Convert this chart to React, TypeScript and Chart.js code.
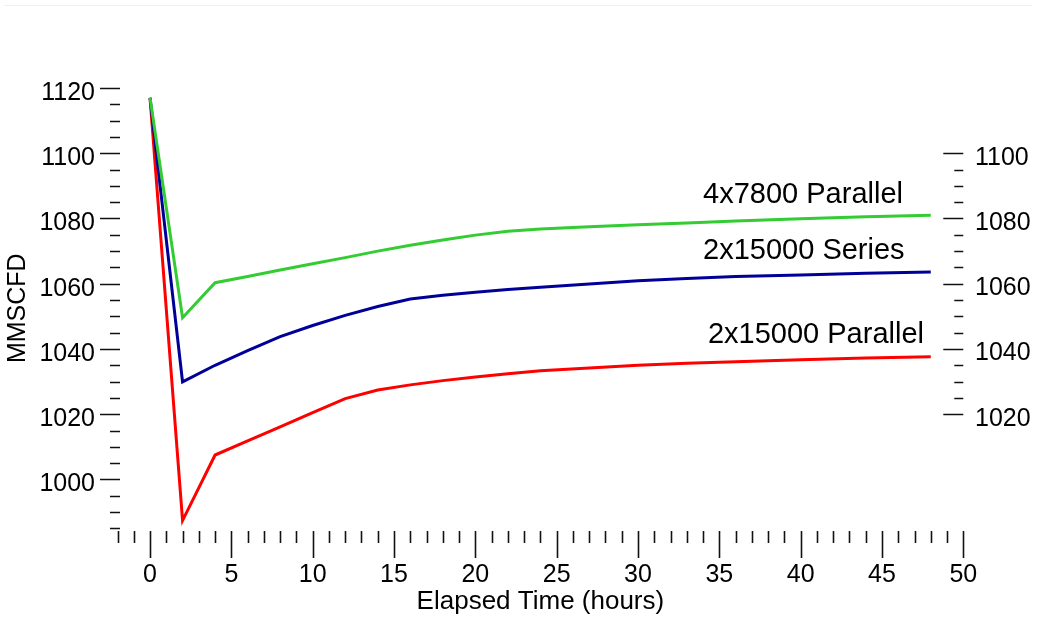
import React, { useEffect, useRef } from "react";
import { Chart, registerables } from "chart.js";

Chart.register(...registerables);

const hours = [0, 2, 4, 6, 8, 10, 12, 14, 16, 18, 20, 22, 24, 27, 30, 33, 36, 40, 44, 48];

const parallel4x7800 = [1117, 1049.6, 1060.3, 1062.2, 1064.2, 1066.1, 1068.0, 1070.0, 1071.8, 1073.4, 1074.9, 1076.1, 1076.8, 1077.5, 1078.1, 1078.6, 1079.2, 1079.9, 1080.5, 1081.0];
const series2x15000 = [1117, 1029.9, 1035.0, 1039.5, 1043.8, 1047.2, 1050.3, 1053.0, 1055.3, 1056.5, 1057.4, 1058.2, 1058.9, 1059.9, 1060.9, 1061.6, 1062.2, 1062.7, 1063.2, 1063.6];
const parallel2x15000 = [1117, 987.4, 1007.5, 1011.8, 1016.1, 1020.5, 1024.8, 1027.4, 1029.0, 1030.3, 1031.4, 1032.4, 1033.3, 1034.2, 1035.0, 1035.6, 1036.1, 1036.7, 1037.2, 1037.6];

const seriesNames = ["4x7800 Parallel", "2x15000 Series", "2x15000 Parallel"];
const seriesColors = ["#33cc33", "#000099", "#ff0000"];

const xTickLabels = [0, 5, 10, 15, 20, 25, 30, 35, 40, 45, 50];
const leftTickLabels = [1000, 1020, 1040, 1060, 1080, 1100, 1120];
const rightTickLabels = [1020, 1040, 1060, 1080, 1100];

// label anchors (data coordinates)
const labelAnchors = [
  { x: 34.0, y: 1084.7 },
  { x: 34.0, y: 1067.6 },
  { x: 34.3, y: 1041.9 },
];

const FONT = "'Liberation Sans', Arial, sans-serif";

const decorPlugin = {
  id: "decor",
  afterDraw(chart: any) {
    const { ctx, chartArea, scales } = chart;
    const xs = scales.x;
    const yl = scales.y;
    const yr = scales.y2;
    ctx.save();
    // faint frame line at top
    ctx.strokeStyle = "rgba(225,225,200,0.45)";
    ctx.lineWidth = 1;
    ctx.beginPath();
    ctx.moveTo(4, 5.5);
    ctx.lineTo(1032, 5.5);
    ctx.stroke();

    ctx.strokeStyle = "#111";
    ctx.lineWidth = 1.6;
    ctx.beginPath();
    // left axis ticks
    const leftEnd = chartArea.left + 2.5;
    for (let v = 985; v <= 1120; v += 5) {
      const y = Math.round(yl.getPixelForValue(v)) + 0.5;
      const major = v % 20 === 0;
      ctx.moveTo(leftEnd - (major ? 20 : 10), y);
      ctx.lineTo(leftEnd, y);
    }
    // right axis ticks
    const rightEnd = chartArea.right;
    for (let v = 1020; v <= 1100; v += 5) {
      const y = Math.round(yr.getPixelForValue(v)) + 0.5;
      const major = v % 20 === 0;
      ctx.moveTo(rightEnd - (major ? 20 : 9), y);
      ctx.lineTo(rightEnd, y);
    }
    // x axis ticks
    const top = chartArea.bottom + 2.5;
    for (let v = -2; v <= 50; v += 1) {
      const x = Math.round(xs.getPixelForValue(v)) + 0.5;
      const major = v % 5 === 0;
      ctx.moveTo(x, top);
      ctx.lineTo(x, top + (major ? 27 : 12));
    }
    ctx.stroke();

    // line labels
    ctx.fillStyle = "#000";
    ctx.font = `29px ${FONT}`;
    ctx.textAlign = "left";
    ctx.textBaseline = "alphabetic";
    seriesNames.forEach((name, i) => {
      const a = labelAnchors[i];
      ctx.fillText(name, xs.getPixelForValue(a.x), yl.getPixelForValue(a.y));
    });
    ctx.restore();
  },
};

const plain = (v: any) => String(v);

export default function App() {
  const ref = useRef<HTMLCanvasElement>(null);
  useEffect(() => {
    if (!ref.current) return;
    const datasets = [parallel4x7800, series2x15000, parallel2x15000].map((vals, i) => ({
      label: seriesNames[i],
      data: hours.map((h, j) => ({ x: h, y: vals[j] })),
      borderColor: seriesColors[i],
      backgroundColor: seriesColors[i],
      borderWidth: 3,
      pointRadius: 0,
      tension: 0,
      fill: false,
      yAxisID: "y",
    }));
    const chart = new Chart(ref.current, {
      type: "line",
      data: { datasets },
      plugins: [decorPlugin],
      options: {
        animation: false,
        responsive: true,
        maintainAspectRatio: false,
        layout: { padding: { top: 88, left: 0, right: 0, bottom: 0 } },
        plugins: { legend: { display: false }, tooltip: { enabled: false } },
        scales: {
          x: {
            type: "linear",
            position: "bottom",
            min: -2,
            max: 50,
            grid: { display: false, drawTicks: false },
            border: { display: false },
            afterBuildTicks: (s: any) => {
              s.ticks = xTickLabels.map((v) => ({ value: v }));
            },
            afterFit: (s: any) => {
              s.height = 88.6;
            },
            ticks: {
              padding: 31.6,
              color: "#000",
              font: { family: FONT, size: 25 },
              maxRotation: 0,
              autoSkip: false,
              callback: plain,
            },
            title: {
              display: true,
              text: "Elapsed Time (hours)",
              color: "#000",
              font: { family: FONT, size: 26 },
              padding: { top: 0, bottom: 0 },
            },
          },
          y: {
            type: "linear",
            position: "left",
            min: 985,
            max: 1120,
            grid: { display: false, drawTicks: false },
            border: { display: false },
            afterBuildTicks: (s: any) => {
              s.ticks = leftTickLabels.map((v) => ({ value: v }));
            },
            afterFit: (s: any) => {
              s.width = 117.5;
            },
            ticks: {
              padding: 22.5,
              labelOffset: 5,
              color: "#000",
              font: { family: FONT, size: 25 },
              autoSkip: false,
              callback: plain,
            },
            title: {
              display: true,
              text: "MMSCFD",
              color: "#000",
              font: { family: FONT, size: 25 },
              padding: { top: 3.5, bottom: 0 },
            },
          },
          y2: {
            type: "linear",
            position: "right",
            min: 985,
            max: 1120,
            grid: { display: false, drawTicks: false },
            border: { display: false },
            afterBuildTicks: (s: any) => {
              s.ticks = rightTickLabels.map((v) => ({ value: v }));
            },
            afterFit: (s: any) => {
              s.width = 73.7;
            },
            ticks: {
              padding: 11.7,
              labelOffset: 4.5,
              color: "#000",
              font: { family: FONT, size: 25 },
              autoSkip: false,
              callback: plain,
            },
          },
        },
      } as any,
    });
    return () => chart.destroy();
  }, []);
  return (
    <div style={{ position: "absolute", left: 0, top: 0, width: 1037, height: 617, background: "#fff" }}>
      <canvas ref={ref} />
    </div>
  );
}
